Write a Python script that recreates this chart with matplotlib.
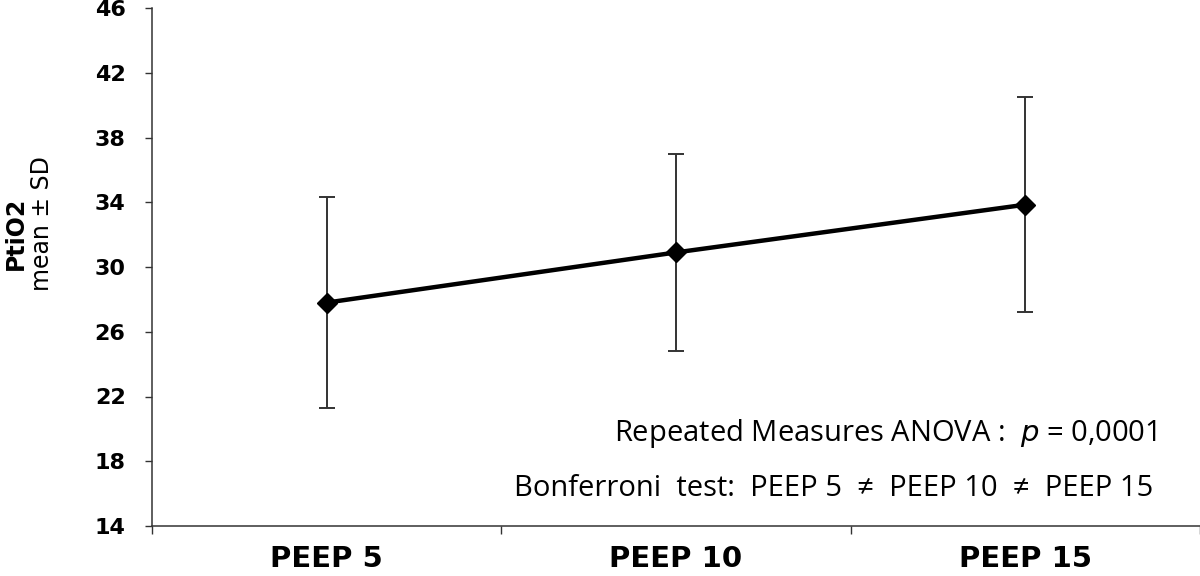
import numpy as np
import matplotlib
matplotlib.use("Agg")
import matplotlib.pyplot as plt

# values
categories = ["PEEP 5", "PEEP 10", "PEEP 15"]
means = [27.8, 30.9, 33.85]
sds = [6.5, 6.1, 6.65]
yticks = [14, 18, 22, 26, 30, 34, 38, 42, 46]

fig = plt.figure(figsize=(12, 5.76), dpi=100)
ax = fig.add_axes([152 / 1200, 50 / 576, 1048 / 1200, 518 / 576])

x = np.arange(len(categories))
ax.errorbar(x, means, yerr=sds, fmt="none", ecolor="#333333",
            elinewidth=1.4, capsize=6, capthick=1.4, zorder=2)
ax.plot(x, means, color="black", lw=3.2, marker="D", markersize=10.5,
        markerfacecolor="black", markeredgecolor="black", zorder=3)

ax.set_xlim(-0.5, 2.5)
ax.set_ylim(14, 46)
ax.set_yticks(yticks)
ax.set_yticklabels([str(v) for v in yticks], fontweight="bold",
                   family="DejaVu Sans", fontsize=16)
ax.set_xticks(x)
ax.set_xticklabels(categories, fontweight="bold", family="DejaVu Sans",
                   fontsize=21)
ax.set_xticks([-0.5, 0.5, 1.5, 2.5], minor=True)
ax.tick_params(axis="x", which="major", length=0, pad=14)
ax.tick_params(axis="x", which="minor", length=6, width=1, color="#333333")
ax.tick_params(axis="y", length=5, width=1, color="#333333", pad=14)

for side in ["top", "right"]:
    ax.spines[side].set_visible(False)
for side in ["left", "bottom"]:
    ax.spines[side].set_color("#333333")
    ax.spines[side].set_linewidth(1.1)

# axis title, placed by hand like the original
fig.text(16 / 1200, 1 - 233 / 576, "PtiO2", rotation=90, ha="center",
         va="center", fontsize=17, fontweight="bold", family="DejaVu Sans")
fig.text(42 / 1200, 1 - 224 / 576, "mean \u00b1 SD", rotation=90,
         ha="center", va="center", fontsize=17, family="DejaVu Sans")

fig.text(1157 / 1200, 1 - 434 / 576,
         r"Repeated Measures ANOVA :  $\it{p}$ = 0,0001",
         ha="right", va="center", fontsize=21, family="Open Sans")
fig.text(1153 / 1200, 1 - 488 / 576,
         "Bonferroni  test:  PEEP 5  \u2260  PEEP 10  \u2260  PEEP 15",
         ha="right", va="center", fontsize=21, family="Open Sans")

fig.savefig("out.png", dpi=100)
